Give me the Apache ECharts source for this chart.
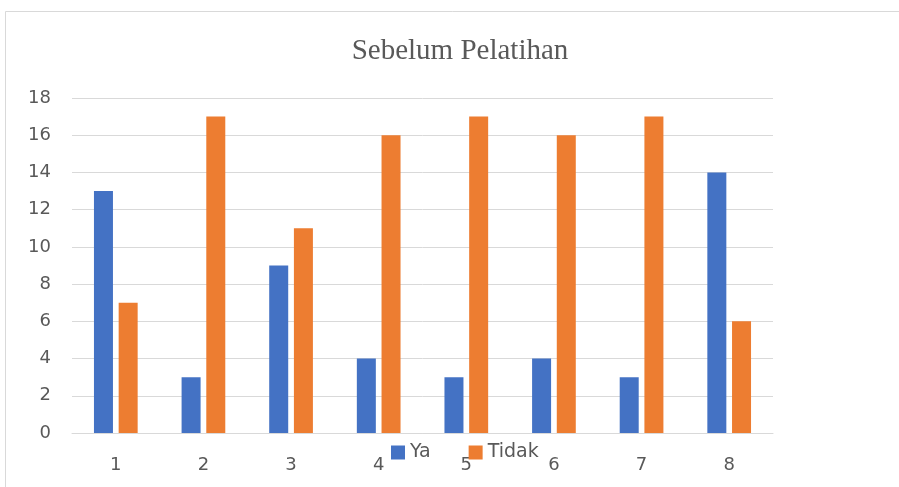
<!DOCTYPE html>
<html>
<head>
<meta charset="utf-8">
<script src="https://cdn.jsdelivr.net/npm/echarts@6/dist/echarts.min.js"></script>
<style>
html, body { margin: 0; padding: 0; background: #fff; }
#chart { width: 899px; height: 487px; }
</style>
</head>
<body>
<div id="chart"></div>
<script>
var categories = ['1', '2', '3', '4', '5', '6', '7', '8'];
var yaValues = [13, 3, 9, 4, 3, 4, 3, 14];
var tidakValues = [7, 17, 11, 16, 17, 16, 17, 6];

var myChart = echarts.init(document.getElementById('chart'));

var option = {
    backgroundColor: '#fff',
    title: {
        text: 'Sebelum Pelatihan',
        left: 455,
        textAlign: 'center',
        top: 32,
        textStyle: {
            fontFamily: 'Liberation Serif',
            fontWeight: 'normal',
            fontSize: 29,
            color: '#595959'
        }
    },
    graphic: [{
        type: 'rect',
        shape: { x: 5.5, y: 11.5, width: 1000, height: 600 },
        style: { fill: 'none', stroke: '#d9d9d9', lineWidth: 1 },
        silent: true
    }],
    legend: {
        left: 391,
        top: 443,
        padding: 0,
        itemWidth: 14,
        itemHeight: 14,
        itemGap: 38,
        icon: 'rect',
        textStyle: {
            fontFamily: 'DejaVu Sans',
            fontSize: 19,
            color: '#595959'
        },
        data: ['Ya', 'Tidak']
    },
    grid: {
        left: 72,
        right: 126,
        top: 98,
        bottom: 54
    },
    xAxis: {
        type: 'category',
        data: categories,
        axisTick: { show: false },
        axisLine: { lineStyle: { color: '#d9d9d9', width: 1 } },
        axisLabel: {
            fontFamily: 'DejaVu Sans',
            fontSize: 18,
            color: '#595959',
            margin: 23
        }
    },
    yAxis: {
        type: 'value',
        min: 0,
        max: 18,
        interval: 2,
        axisLine: { show: false },
        axisTick: { show: false },
        splitLine: { lineStyle: { color: '#d9d9d9', width: 1 } },
        axisLabel: {
            fontFamily: 'DejaVu Sans',
            fontSize: 18,
            color: '#595959',
            margin: 21
        }
    },
    series: [
        {
            name: 'Ya',
            type: 'bar',
            data: yaValues,
            barWidth: 19,
            barGap: '30%',
            itemStyle: { color: '#4472C4' }
        },
        {
            name: 'Tidak',
            type: 'bar',
            data: tidakValues,
            barWidth: 19,
            itemStyle: { color: '#ED7D31' }
        }
    ]
};

myChart.setOption(option);
</script>
</body>
</html>
